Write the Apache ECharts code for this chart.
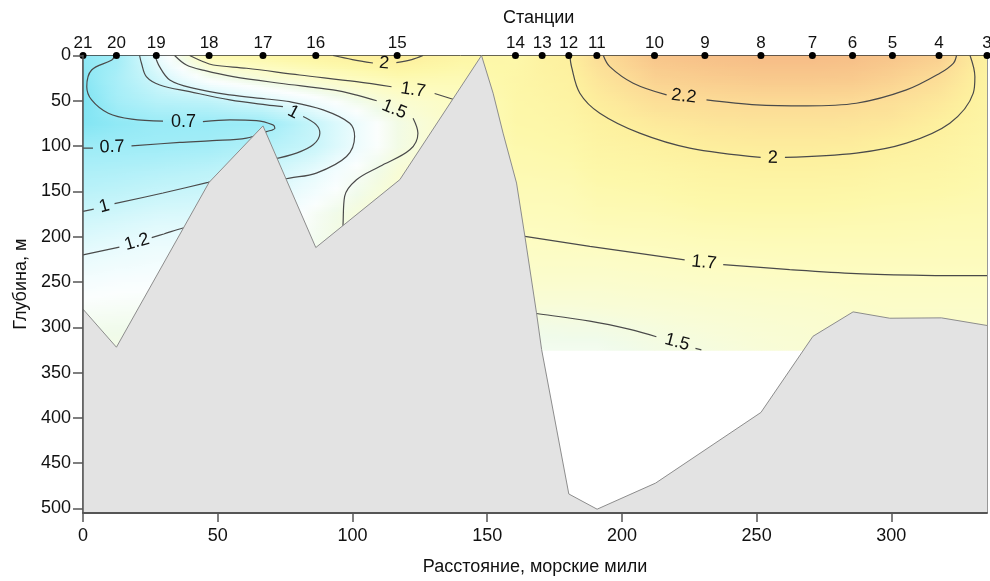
<!DOCTYPE html>
<html>
<head>
<meta charset="utf-8">
<script src="https://cdn.jsdelivr.net/npm/echarts@6/dist/echarts.min.js"></script>
<style>
  html, body { margin: 0; padding: 0; background: #fff; }
  #chart { width: 990px; height: 581px; }
</style>
</head>
<body>
<div id="chart"></div>
<script>
var stationNames = ['21', '20', '19', '18', '17', '16', '15', '14', '13', '12', '11', '10', '9', '8', '7', '6', '5', '4', '3'];
var stationDist = [0, 12.4, 27.2, 46.8, 66.8, 86.4, 116.6, 160.5, 170.4, 180.3, 190.7, 212.1, 230.8, 251.6, 270.7, 285.6, 300.4, 317.7, 335.5];

var xTicks = [0, 50, 100, 150, 200, 250, 300];
var yTicks = [0, 50, 100, 150, 200, 250, 300, 350, 400, 450, 500];

// grid of the field: columns (distance) x depth levels
var fieldDist = [0, 12.4, 27.2, 46.8, 66.8, 86.4, 116.6, 140, 160.5, 170.4, 180.3, 190.7, 212.1, 230.8, 251.6, 270.7, 285.6, 300.4, 317.7, 335.5];
var fieldDepth = [0, 25, 50, 75, 100, 125, 150, 175, 200, 225, 250, 275, 300, 325];
var temp = [
  [0.62, 0.58, 0.52, 0.55, 0.69, 0.80, 0.90, 1.02, 1.12, 1.21, 1.30, 1.37, 1.43, 1.48],
  [0.72, 0.78, 0.74, 0.62, 0.70, 0.82, 0.93, 1.05, 1.16, 1.24, 1.32, 1.38, 1.44, 1.48],
  [1.22, 1.05, 0.88, 0.67, 0.71, 0.85, 0.98, 1.10, 1.20, 1.27, 1.33, 1.39, 1.44, 1.48],
  [1.80, 1.40, 0.94, 0.67, 0.74, 0.90, 1.02, 1.12, 1.20, 1.27, 1.33, 1.38, 1.43, 1.47],
  [1.87, 1.55, 1.12, 0.68, 0.85, 1.00, 1.10, 1.20, 1.28, 1.33, 1.37, 1.41, 1.45, 1.48],
  [1.95, 1.65, 1.30, 1.00, 1.01, 1.18, 1.28, 1.40, 1.42, 1.44, 1.45, 1.46, 1.47, 1.48],
  [2.05, 1.80, 1.60, 1.47, 1.47, 1.55, 1.60, 1.65, 1.66, 1.66, 1.66, 1.66, 1.66, 1.66],
  [1.90, 1.78, 1.70, 1.68, 1.68, 1.68, 1.68, 1.68, 1.68, 1.68, 1.68, 1.68, 1.68, 1.68],
  [1.85, 1.88, 1.87, 1.86, 1.83, 1.80, 1.77, 1.74, 1.70, 1.66, 1.62, 1.56, 1.50, 1.45],
  [1.95, 1.93, 1.90, 1.87, 1.84, 1.81, 1.77, 1.74, 1.705, 1.67, 1.62, 1.55, 1.47, 1.42],
  [2.00, 1.97, 1.94, 1.90, 1.86, 1.82, 1.78, 1.75, 1.71, 1.67, 1.62, 1.55, 1.48, 1.42],
  [2.18, 2.10, 2.03, 1.97, 1.92, 1.87, 1.82, 1.78, 1.73, 1.67, 1.62, 1.56, 1.48, 1.42],
  [2.38, 2.28, 2.17, 2.06, 1.97, 1.90, 1.84, 1.79, 1.74, 1.69, 1.64, 1.58, 1.52, 1.48],
  [2.42, 2.32, 2.20, 2.10, 2.02, 1.94, 1.88, 1.82, 1.76, 1.71, 1.66, 1.60, 1.55, 1.51],
  [2.45, 2.35, 2.22, 2.12, 2.04, 1.96, 1.89, 1.83, 1.77, 1.72, 1.67, 1.62, 1.58, 1.55],
  [2.45, 2.35, 2.22, 2.12, 2.04, 1.96, 1.89, 1.83, 1.77, 1.73, 1.68, 1.63, 1.60, 1.58],
  [2.43, 2.34, 2.21, 2.11, 2.03, 1.95, 1.88, 1.82, 1.77, 1.73, 1.69, 1.65, 1.62, 1.60],
  [2.38, 2.28, 2.17, 2.08, 1.99, 1.92, 1.86, 1.81, 1.77, 1.73, 1.69, 1.66, 1.63, 1.60],
  [2.30, 2.18, 2.08, 2.00, 1.95, 1.90, 1.85, 1.80, 1.76, 1.73, 1.69, 1.66, 1.63, 1.60],
  [1.97, 1.95, 1.93, 1.91, 1.88, 1.85, 1.82, 1.79, 1.76, 1.73, 1.69, 1.66, 1.63, 1.60]
];

// bottom profile [distance, depth]
var bottom = [
  [0, 280], [12.4, 322], [46.8, 140], [66.8, 77.7], [86.4, 212], [117.6, 137], [147.9, 0],
  [152.2, 41.6], [155.9, 85.7], [160.9, 140.8], [164, 199.6], [168.3, 284], [170.2, 324.5],
  [180.3, 484], [190.8, 500.8], [212.5, 472], [251.6, 394], [270.9, 310], [285.8, 283],
  [299.4, 290], [318.6, 289.6], [335.5, 298]
];

// isolines, split where the labels sit
var iso07 = [
  [[11.8, 0], [10.7, 5], [3.2, 16], [1.4, 34.4], [3.2, 49], [9.4, 63.7], [18.1, 70.3], [29.7, 72.4]],
  [[44.5, 72.9], [54.5, 71.1], [64.4, 71.8], [70.5, 76.6], [71.2, 80.2], [68.1, 84], [60.7, 91.2], [48, 94], [35.9, 96], [18, 99.7]],
  [[3.7, 102.2], [0, 102.2]]
];
var iso10 = [
  [[21, 0], [21.7, 8.6], [23.5, 23.3], [28.5, 32.5], [39.6, 39.9], [54.5, 49], [68.1, 54.5], [74.2, 56.4]],
  [[81.7, 67.4], [86.6, 76.6], [87.9, 85.7], [85.4, 98.6], [79.2, 107.8], [70, 115]],
  [[52, 136], [46.4, 140.1], [29.7, 151.8], [11.7, 163.5]],
  [[4, 169.5], [0, 172]]
];
var iso12 = [
  [[26.7, 0], [28.4, 12.3], [32.2, 27], [40.8, 36.1], [54.5, 43.5], [68, 48], [76.7, 51], [89.1, 60], [99, 74.7], [100.8, 89.5], [97.8, 111.5], [86.6, 129.8], [76.7, 135.3], [72, 138]],
  [[42, 187.5], [37.1, 190.4], [30, 197], [25.5, 201]],
  [[13.5, 211.5], [0, 220]]
];
var iso15 = [
  [[34, 0], [38.4, 10.5], [45, 16.5], [55.7, 23.3], [73, 30.6], [92.8, 38], [102, 44], [109, 50]],
  [[122.5, 69.2], [124.3, 85.7], [121.3, 104.1], [110.1, 122.5], [101.5, 137.2], [97.1, 155.6], [96.5, 186.8], [96.4, 195]],
  [[166, 284], [168.3, 284.8], [188.1, 293.3], [203, 302.4], [212.8, 310.5]],
  [[227.3, 323.3], [229.5, 325]]
];
var iso17 = [
  [[39.6, 0], [44, 6], [48.3, 10.5], [60.7, 14.1], [80.4, 21.5], [101.5, 28.9], [114.5, 34.5]],
  [[130.5, 42], [137.3, 48.3], [140, 51]],
  [[163, 199], [164, 199.6], [188.1, 210.7], [223.3, 225.5]],
  [[237.6, 230.8], [262.3, 236.3], [287, 240.7], [311.8, 242.6], [335.5, 243]]
];
var iso20 = [
  [[92.8, 0], [100, 4.5], [107.6, 8.3]],
  [[116.3, 7.9], [122, 4.5], [126.2, 0]],
  [[180.7, 0], [181.3, 12.3], [184.4, 41.6], [191.8, 63.7], [206.6, 85.7], [225.2, 102.2], [251.5, 112.5]],
  [[260.5, 112.5], [287, 107.7], [305.6, 96.7], [321.7, 74.7], [330.4, 41.6], [331, 23.4], [329.2, 0]]
];
var iso22 = [
  [[193.1, 0], [195.5, 12.3], [204.2, 30.6], [216.6, 43.5]],
  [[231.4, 49], [250, 54.5], [268.5, 55.6], [287, 52.7], [305.6, 38], [318, 19.6], [323, 8.6], [324.2, 0]]
];

// isoline labels: text, distance, depth, rotation
var isoLabels = [
  ['0.7', 37.3, 73, 0],
  ['0.7', 10.8, 101, 2],
  ['1', 78, 62.5, -28],
  ['1', 7.9, 166.6, 15],
  ['1.2', 20, 206, 16],
  ['1.5', 115.5, 59.5, -22],
  ['1.7', 122.5, 38, -9],
  ['2', 111.8, 8.6, -5],
  ['2.2', 223, 45, -7],
  ['2', 256, 113, -1],
  ['1.7', 230.5, 228.5, -6],
  ['1.5', 220.5, 316.5, -15]
];

var colorScale = [
  [0.5, '#7ae3f2'], [0.7, '#9eecf7'], [1.0, '#c8f5fa'], [1.2, '#e8fbfd'], [1.35, '#fbfefe'],
  [1.45, '#f0fbea'], [1.55, '#f8fcd8'], [1.7, '#fdfcc2'], [1.85, '#fdf8aa'], [2.0, '#fdf09e'],
  [2.2, '#fcdb96'], [2.45, '#f6bc86']
];

function tempColor(v) {
  if (v <= colorScale[0][0]) return colorScale[0][1];
  for (var k = 1; k < colorScale.length; k++) {
    if (v <= colorScale[k][0]) {
      var t = (v - colorScale[k - 1][0]) / (colorScale[k][0] - colorScale[k - 1][0]);
      return echarts.color.lerp(t, [colorScale[k - 1][1], colorScale[k][1]]);
    }
  }
  return colorScale[colorScale.length - 1][1];
}

function joinSegments(segs) {
  var out = [];
  segs.forEach(function (seg, k) {
    if (k > 0) out.push(['-', '-']);
    out = out.concat(seg);
  });
  return out;
}

var cells = [];
for (var i = 0; i < fieldDist.length - 1; i++) {
  for (var j = 0; j < fieldDepth.length - 1; j++) {
    cells.push([fieldDist[i], fieldDepth[j], i, j]);
  }
}

function renderCell(params, api) {
  var i = api.value(2);
  var j = api.value(3);
  var p0 = api.coord([fieldDist[i], fieldDepth[j]]);
  var p1 = api.coord([fieldDist[i + 1], fieldDepth[j + 1]]);
  var w = p1[0] - p0[0];
  var h = p1[1] - p0[1];
  var n = 10;
  var children = [];
  for (var k = 0; k < n; k++) {
    var t = (k + 0.5) / n;
    var vl = temp[i][j] + (temp[i][j + 1] - temp[i][j]) * t;
    var vr = temp[i + 1][j] + (temp[i + 1][j + 1] - temp[i + 1][j]) * t;
    var stops = [];
    for (var s = 0; s <= 4; s++) {
      stops.push({ offset: s / 4, color: tempColor(vl + (vr - vl) * s / 4) });
    }
    children.push({
      type: 'rect',
      shape: { x: p0[0], y: p0[1] + h * k / n, width: w + 0.8, height: h / n + 0.8 },
      style: { fill: { type: 'linear', x: 0, y: 0, x2: 1, y2: 0, colorStops: stops } }
    });
  }
  return { type: 'group', children: children };
}

function isoSeries(segs) {
  return {
    type: 'line',
    data: joinSegments(segs),
    smooth: 0.35,
    symbol: 'none',
    z: 3,
    lineStyle: { color: '#4a4a4a', width: 1.2 },
    silent: true
  };
}

var font = 'Liberation Sans, Arial, sans-serif';

var option = {
  animation: false,
  backgroundColor: '#fff',
  title: {
    text: 'Станции',
    left: 498,
    top: 4,
    padding: 5,
    textStyle: { fontSize: 18, fontWeight: 'normal', color: '#111', fontFamily: font }
  },
  grid: {
    left: 83, right: 3, top: 55.5, bottom: 67,
    show: true, borderColor: '#333', borderWidth: 1, backgroundColor: 'transparent'
  },
  xAxis: {
    type: 'value', min: 0, max: 335.5, z: 10,
    name: 'Расстояние, морские мили', nameLocation: 'middle', nameGap: 45,
    nameTextStyle: { fontSize: 18, color: '#111', fontFamily: font },
    axisLine: { show: true, onZero: false, lineStyle: { color: '#555', width: 2 } },
    axisTick: { show: true, length: 9, customValues: xTicks, lineStyle: { color: '#555', width: 1.5 } },
    axisLabel: { customValues: xTicks, fontSize: 18, color: '#111', margin: 14, fontFamily: font },
    splitLine: { show: false }
  },
  yAxis: {
    type: 'value', min: 0, max: 505, inverse: true, z: 10,
    name: 'Глубина, м', nameLocation: 'middle', nameGap: 53,
    nameTextStyle: { fontSize: 18, color: '#111', fontFamily: font },
    axisLine: { show: true, onZero: false, lineStyle: { color: '#555', width: 1.5 } },
    axisTick: { show: true, length: 10, customValues: yTicks, lineStyle: { color: '#555', width: 1.5 } },
    axisLabel: { customValues: yTicks, fontSize: 18, color: '#111', margin: 12, fontFamily: font },
    splitLine: { show: false }
  },
  series: [
    {
      type: 'custom',
      renderItem: renderCell,
      data: cells,
      encode: { x: 0, y: 1 },
      clip: true,
      silent: true,
      z: 1
    },
    isoSeries(iso07),
    isoSeries(iso10),
    isoSeries(iso12),
    isoSeries(iso15),
    isoSeries(iso17),
    isoSeries(iso20),
    isoSeries(iso22),
    {
      type: 'line',
      data: bottom,
      symbol: 'none',
      z: 5,
      lineStyle: { color: '#8c8c8c', width: 1 },
      areaStyle: { color: '#e3e3e3', opacity: 1, origin: 'end' },
      silent: true
    },
    {
      type: 'scatter',
      symbolSize: 1,
      z: 6,
      itemStyle: { color: 'transparent', opacity: 1 },
      data: isoLabels.map(function (l) {
        return { name: l[0], value: [l[1], l[2]], label: { rotate: l[3] } };
      }),
      label: {
        show: true, position: 'inside', formatter: '{b}',
        fontSize: 18, color: '#111', fontFamily: font
      },
      silent: true
    },
    {
      type: 'scatter',
      symbol: 'circle',
      symbolSize: 7,
      clip: false,
      z: 8,
      itemStyle: { color: '#000', opacity: 1 },
      data: stationDist.map(function (d, k) {
        return { name: stationNames[k], value: [d, 0] };
      }),
      label: {
        show: true, position: 'top', distance: 0, formatter: '{b}',
        fontSize: 17, color: '#111', fontFamily: font
      },
      silent: true
    }
  ]
};

var myChart = echarts.init(document.getElementById('chart'));
myChart.setOption(option);
</script>
</body>
</html>
